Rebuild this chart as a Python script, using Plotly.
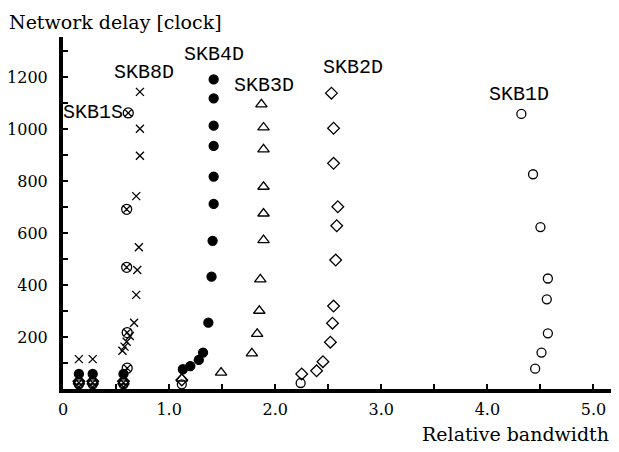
import plotly.graph_objects as go

# ---- data ----
skb1d_x = [0.15, 0.28, 0.57, 1.12, 2.24, 4.45, 4.51, 4.57, 4.56, 4.57, 4.50, 4.43, 4.32]
skb1d_y = [18, 18, 18, 18, 23, 78, 140, 214, 345, 425, 623, 826, 1058]

skb2d_x = [0.15, 0.28, 0.57, 1.12, 2.25, 2.39, 2.45, 2.52, 2.54, 2.55, 2.57, 2.58, 2.59, 2.55, 2.55, 2.53]
skb2d_y = [30, 30, 30, 35, 58, 70, 105, 180, 253, 319, 496, 628, 701, 868, 1003, 1138]

skb3d_x = [0.15, 0.28, 0.57, 1.12, 1.49, 1.78, 1.83, 1.85, 1.86, 1.89, 1.89, 1.89, 1.89, 1.89, 1.87]
skb3d_y = [28, 28, 28, 40, 63, 137, 212, 301, 422, 573, 675, 778, 922, 1006, 1095]

skb4d_x = [0.15, 0.28, 0.57, 1.13, 1.20, 1.28, 1.32, 1.37, 1.40, 1.41, 1.42, 1.42, 1.42, 1.42, 1.42, 1.42]
skb4d_y = [58, 58, 58, 76, 88, 112, 140, 255, 432, 570, 712, 817, 935, 1013, 1118, 1191]

skb8d_x = [0.15, 0.28, 0.56, 0.58, 0.60, 0.63, 0.67, 0.69, 0.70, 0.715, 0.69, 0.725, 0.725, 0.725]
skb8d_y = [115, 115, 147, 163, 182, 204, 255, 362, 458, 545, 742, 897, 1001, 1143]

skb1s_x = [0.15, 0.28, 0.57, 0.605, 0.605, 0.60, 0.60, 0.615]
skb1s_y = [24, 24, 24, 80, 217, 468, 691, 1062]

labels = ["SKB1D", "SKB2D", "SKB3D", "SKB4D", "SKB8D", "SKB1S"]
label_x = [4.30, 2.73, 1.89, 1.42, 0.76, 0.28]
label_y = [1131, 1235, 1169, 1285, 1219, 1065]

x_tickvals = [0, 1, 2, 3, 4, 5]
x_ticktext = ["0", "1.0", "2.0", "3.0", "4.0", "5.0"]
y_tickvals = [200, 400, 600, 800, 1000, 1200]
y_ticktext = ["200", "400", "600", "800", "1000", "1200"]

series = [
    (skb1d_x, skb1d_y, "circle-open", 9),
    (skb2d_x, skb2d_y, "diamond-open", 9),
    (skb3d_x, skb3d_y, "triangle-up-open", 10),
    (skb4d_x, skb4d_y, "circle", 9),
    (skb8d_x, skb8d_y, "x-thin-open", 8),
    (skb1s_x, skb1s_y, "circle-x-open", 10),
]

fig = go.Figure()
for (xs, ys, sym, sz), name in zip(series, labels):
    fig.add_trace(go.Scatter(
        x=xs, y=ys, mode="markers", name=name,
        marker=dict(symbol=sym, size=sz, color="black",
                    line=dict(color="black", width=1.3)),
        cliponaxis=False,
    ))

mono = dict(family="Liberation Mono, DejaVu Sans Mono, monospace", size=20, color="black")
for t, lx, ly in zip(labels, label_x, label_y):
    fig.add_annotation(x=lx, y=ly, text=t, showarrow=False, font=mono,
                       xref="x", yref="y", xanchor="center", yanchor="middle")

# plot area is 548 x 352 px (paper units are relative to it)
serif = dict(family="DejaVu Serif, Liberation Serif, serif", size=19, color="black")
fig.add_annotation(x=-0.103, y=1.079, xref="paper", yref="paper", xanchor="left", yanchor="top",
                   text="Network delay [clock]", showarrow=False, font=serif)
fig.add_annotation(x=1.0, y=-0.128, xref="paper", yref="paper", xanchor="right", yanchor="middle",
                   text="Relative bandwidth", showarrow=False, font=serif)

# The page body has an 8px margin; size the figure so it fits the 619x452 window
# without scrollbars and the plot area lands where the reference has it.
fig.update_layout(
    width=603, height=436,
    margin=dict(l=55, r=0, t=29, b=55, autoexpand=False),
    paper_bgcolor="white", plot_bgcolor="white",
    showlegend=False,
    font=dict(family="DejaVu Serif, Liberation Serif, serif", size=16, color="black"),
)
fig.update_xaxes(
    range=[0, 5.165], showgrid=False, zeroline=False,
    showline=True, linecolor="black", linewidth=4,
    tickvals=x_tickvals, ticktext=x_ticktext,
    ticks="inside", ticklen=5, tickwidth=2, tickcolor="black",
    minor=dict(dtick=0.5, tick0=0, ticks="inside", ticklen=5, tickwidth=2, tickcolor="black"),
    tickfont=dict(size=16), ticklabelstandoff=3,
)
fig.update_yaxes(
    range=[0, 1354], showgrid=False, zeroline=False,
    showline=True, linecolor="black", linewidth=4,
    tickvals=y_tickvals, ticktext=y_ticktext,
    ticks="inside", ticklen=5, tickwidth=2, tickcolor="black",
    minor=dict(dtick=100, tick0=0, ticks="inside", ticklen=5, tickwidth=2, tickcolor="black"),
    tickfont=dict(size=16), ticklabelstandoff=8,
)

fig.write_html("out.html")
